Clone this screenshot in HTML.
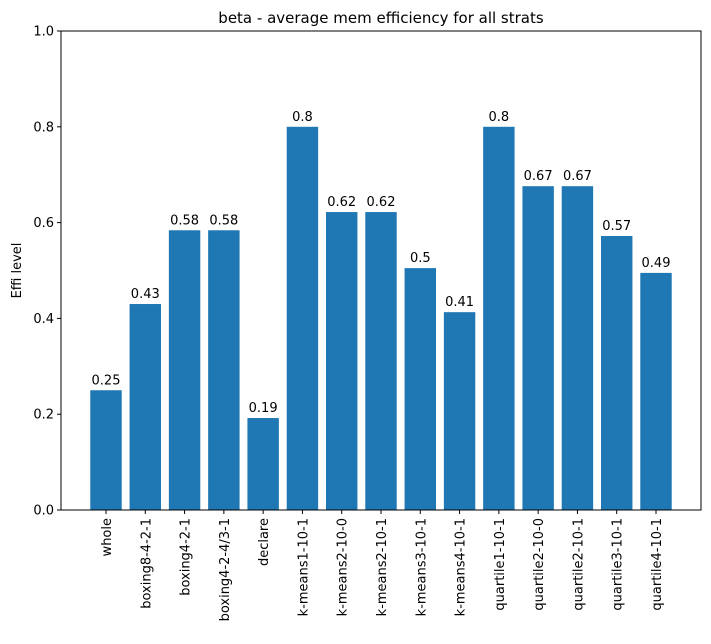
<!DOCTYPE html>
<html><head><meta charset="utf-8"><style>
body{margin:0;background:#fff;font-family:"DejaVu Sans","Liberation Sans",sans-serif;}
svg text{font-family:"DejaVu Sans","Liberation Sans",sans-serif;fill:#000;}
</style></head><body>
<svg id="chart" width="711" height="640" xmlns="http://www.w3.org/2000/svg"></svg>
<script>
const categories=["whole","boxing8-4-2-1","boxing4-2-1","boxing4-2-4/3-1","declare","k-means1-10-1","k-means2-10-0","k-means2-10-1","k-means3-10-1","k-means4-10-1","quartile1-10-1","quartile2-10-0","quartile2-10-1","quartile3-10-1","quartile4-10-1"];
const values=[0.25,0.43,0.584,0.584,0.192,0.8,0.622,0.622,0.505,0.413,0.8,0.676,0.676,0.572,0.495];
const valueLabels=["0.25","0.43","0.58","0.58","0.19","0.8","0.62","0.62","0.5","0.41","0.8","0.67","0.67","0.57","0.49"];
const yTicks=[0,0.2,0.4,0.6,0.8,1.0];
const yTickLabels=["0.0","0.2","0.4","0.6","0.8","1.0"];

const svg=document.getElementById('chart');
const NS="http://www.w3.org/2000/svg";
const L=61,R=701,T=31,B=510;
const step=(R-L-90)/(categories.length-1);
const xPos=i=>L+45+i*step;
const yPos=v=>B-(B-T)*v;
function mk(tag,attrs,parent){const e=document.createElementNS(NS,tag);for(const k in attrs)e.setAttribute(k,attrs[k]);(parent||svg).appendChild(e);return e;}

const bw=step*0.8;
values.forEach((v,i)=>{
  const r=mk('rect',{x:xPos(i)-bw/2,y:yPos(v),width:bw,height:B-yPos(v),fill:'#1f77b4'});
  
  
  const t=mk('text',{x:xPos(i),y:yPos(v)-6,'text-anchor':'middle','font-size':'13'});
  t.textContent=valueLabels[i];
  
  
  mk('line',{x1:xPos(i),x2:xPos(i),y1:B,y2:B+4,stroke:'#000','stroke-width':1});
  const xl=mk('text',{transform:`translate(${xPos(i)+5},${B+8}) rotate(-90)`,'text-anchor':'end','font-size':'13'});
  xl.textContent=categories[i];
  
  
});
yTicks.forEach((v,i)=>{
  mk('line',{x1:L-4,x2:L,y1:yPos(v),y2:yPos(v),stroke:'#000','stroke-width':1});
  const t=mk('text',{x:L-7,y:yPos(v)+4.5,'text-anchor':'end','font-size':'13'});
  t.textContent=yTickLabels[i];
  
  
});
const frame=mk('rect',{x:L,y:T,width:R-L,height:B-T,fill:'none',stroke:'#000','stroke-width':1});


const title=mk('text',{x:(L+R)/2,y:T-8,'text-anchor':'middle','font-size':'15'});
title.textContent='beta - average mem efficiency for all strats';


const yl=mk('text',{transform:`translate(21,${(T+B)/2}) rotate(-90)`,'text-anchor':'middle','font-size':'13'});
yl.textContent='Effi level';


</script>
</body></html>
